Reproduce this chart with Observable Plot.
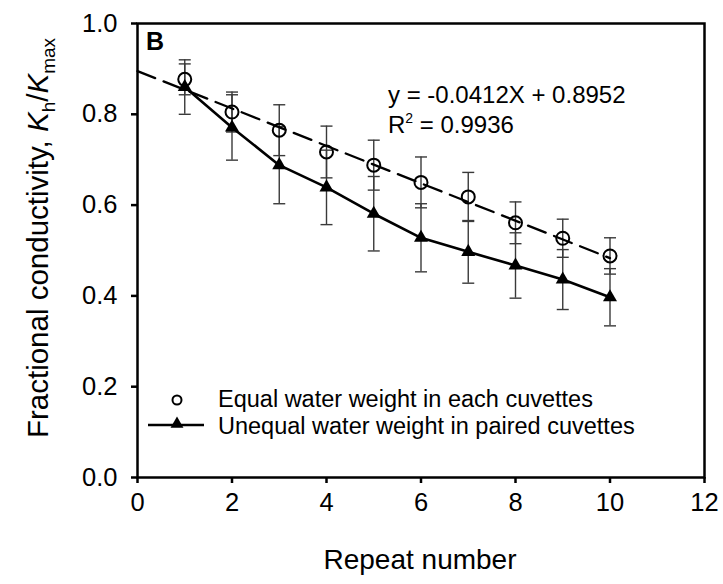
<!DOCTYPE html>
<html>
<head>
<meta charset="utf-8">
<script src="https://cdn.jsdelivr.net/npm/d3@7"></script>
<script src="https://cdn.jsdelivr.net/npm/@observablehq/plot@0.6"></script>
<style>
  html, body { margin: 0; padding: 0; background: #fff; }
  #chart svg { display: block; }
</style>
</head>
<body>
<div id="chart"></div>
<script>
// ---- data ----
const repeats = [1, 2, 3, 4, 5, 6, 7, 8, 9, 10];
const equalMean = [0.877, 0.805, 0.765, 0.717, 0.688, 0.650, 0.618, 0.561, 0.527, 0.488];
const equalErr  = [0.034, 0.044, 0.056, 0.057, 0.055, 0.056, 0.054, 0.046, 0.042, 0.040];
const unequalMean = [0.860, 0.771, 0.688, 0.639, 0.581, 0.528, 0.497, 0.467, 0.436, 0.397];
const unequalErr  = [0.060, 0.072, 0.085, 0.082, 0.082, 0.075, 0.069, 0.072, 0.066, 0.063];
const fitSlope = -0.0412;
const fitIntercept = 0.8952;
const fitRepeatRange = [0, 10];
const xTicks = [0, 2, 4, 6, 8, 10, 12];
const yTicks = [0, 0.2, 0.4, 0.6, 0.8, 1.0];
const seriesNames = ["Equal water weight in each cuvettes", "Unequal water weight in paired cuvettes"];
const equationText = "y = -0.0412X + 0.8952";
const r2Value = "0.9936";
const panelLabel = "B";
const xTitle = "Repeat number";

// ---- tables built from the arrays ----
const equal = repeats.map((r, i) => ({x: r, y: equalMean[i], lo: equalMean[i] - equalErr[i], hi: equalMean[i] + equalErr[i]}));
const unequal = repeats.map((r, i) => ({x: r, y: unequalMean[i], lo: unequalMean[i] - unequalErr[i], hi: unequalMean[i] + unequalErr[i]}));
const fit = fitRepeatRange.map(x => ({x, y: fitIntercept + fitSlope * x}));
const errAll = unequal.concat(equal);

const capSymbol = { draw(ctx) { ctx.moveTo(-6, 0); ctx.lineTo(6, 0); } };

const FONT = "'Liberation Sans', Arial, Helvetica, sans-serif";
const errColor = "#3a3a3a";

const plot = Plot.plot({
  width: 723,
  height: 584,
  marginLeft: 137,
  marginRight: 19,
  marginTop: 23,
  marginBottom: 107,
  style: {fontFamily: FONT, fontSize: "25px", color: "#000", background: "#fff"},
  x: {domain: [0, 12]},
  y: {domain: [0, 1]},
  marks: [
    // error bars
    Plot.ruleX(errAll, {x: "x", y1: "lo", y2: "hi", stroke: errColor, strokeWidth: 1.4}),
    Plot.dot(errAll, {x: "x", y: "hi", symbol: capSymbol, stroke: errColor, strokeWidth: 1.4, fill: "none"}),
    Plot.dot(errAll, {x: "x", y: "lo", symbol: capSymbol, stroke: errColor, strokeWidth: 1.4, fill: "none"}),
    // regression line (dashed)
    Plot.line(fit, {x: "x", y: "y", stroke: "#000", strokeWidth: 2.3, strokeDasharray: "19,9"}),
    // equal series (open circles)
    Plot.dot(equal, {x: "x", y: "y", r: 6.5, stroke: "#000", strokeWidth: 2, fill: "none"}),
    // unequal series (solid line + filled triangles)
    Plot.line(unequal, {x: "x", y: "y", stroke: "#000", strokeWidth: 2.6, curve: "linear"}),
    Plot.dot(unequal, {x: "x", y: "y", r: 5.2, symbol: "triangle", fill: "#000", stroke: "none"}),
    // axes: ticks and labels separately
    Plot.axisX({ticks: xTicks, tickSize: 6, text: null, strokeWidth: 2.5, label: null}),
    Plot.axisX({ticks: xTicks, tickSize: 0, tickPadding: 0, dy: 15, fontSize: 25.5, label: null, tickFormat: d => String(d)}),
    Plot.axisY({ticks: yTicks, tickSize: 6, text: null, strokeWidth: 2.5, label: null}),
    Plot.axisY({ticks: yTicks, tickSize: 0, tickPadding: 0, dx: -20, fontSize: 25.5, label: null, tickFormat: d3.format(".1f")}),
    Plot.frame({stroke: "#000", strokeWidth: 2.5})
  ]
});

document.getElementById("chart").appendChild(plot);

// ---- annotations, titles and legend ----
const svg = d3.select(plot);
const g = svg.append("g").attr("font-family", FONT).attr("fill", "#000").attr("text-anchor", "start");

// panel label
g.append("text").attr("x", 146).attr("y", 50).attr("font-size", 25).attr("font-weight", "bold").text(panelLabel);

// equation
g.append("text").attr("x", 388).attr("y", 103).attr("font-size", 24).text(equationText);
const r2 = g.append("text").attr("x", 388).attr("y", 133).attr("font-size", 24);
r2.append("tspan").text("R");
r2.append("tspan").attr("font-size", 14).attr("dy", -10).text("2");
r2.append("tspan").attr("dy", 10).text(" = " + r2Value);

// x title
g.append("text").attr("x", 420).attr("y", 569).attr("text-anchor", "middle").attr("font-size", 28).text(xTitle);

// y title
const yt = g.append("text").attr("transform", "translate(48,238) rotate(-90)").attr("text-anchor", "middle").attr("font-size", 29.5);
yt.append("tspan").text("Fractional conductivity, ");
yt.append("tspan").attr("font-style", "italic").text("K");
yt.append("tspan").attr("font-size", 19).attr("dy", 7).text("h");
yt.append("tspan").attr("dy", -7).text("/");
yt.append("tspan").attr("font-style", "italic").text("K");
yt.append("tspan").attr("font-size", 19).attr("dy", 7).text("max");

// legend
g.append("circle").attr("cx", 177).attr("cy", 400).attr("r", 4.5).attr("fill", "none").attr("stroke", "#000").attr("stroke-width", 2);
g.append("line").attr("x1", 148).attr("x2", 204).attr("y1", 425).attr("y2", 425).attr("stroke", "#000").attr("stroke-width", 2.6);
g.append("path").attr("transform", "translate(177,424)").attr("d", d3.symbol(d3.symbolTriangle, 4.8 * 4.8 * Math.PI)()).attr("fill", "#000");
g.append("text").attr("x", 218).attr("y", 407).attr("font-size", 23.5).text(seriesNames[0]);
g.append("text").attr("x", 218).attr("y", 434).attr("font-size", 23.5).text(seriesNames[1]);
</script>
</body>
</html>
